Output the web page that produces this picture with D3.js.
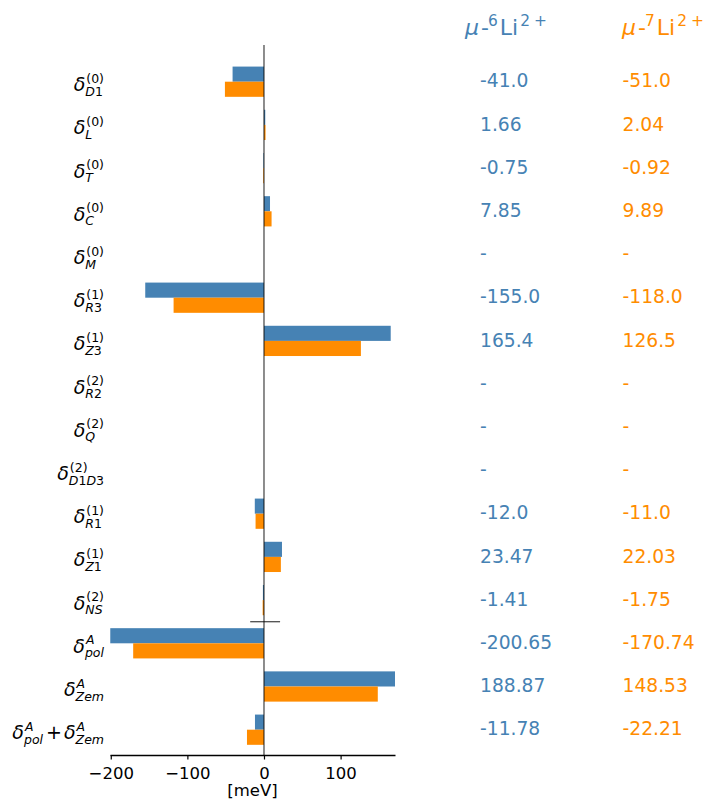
<!DOCTYPE html>
<html>
<head>
<meta charset="utf-8">
<title>shift contributions</title>
<script src="https://cdn.jsdelivr.net/npm/d3@7"></script>
<style>
  body { margin: 0; background: #fff; }
  text { font-family: "DejaVu Sans", sans-serif; }
</style>
</head>
<body>
<svg id="chart" width="704" height="803"></svg>
<script>

// Row labels: [subscript, superscript] per delta term
var rowTerms = [
  [["D1", "(0)"]], [["L", "(0)"]], [["T", "(0)"]], [["C", "(0)"]], [["M", "(0)"]],
  [["R3", "(1)"]], [["Z3", "(1)"]], [["R2", "(2)"]], [["Q", "(2)"]], [["D1D3", "(2)"]],
  [["R1", "(1)"]], [["Z1", "(1)"]], [["NS", "(2)"]], [["pol", "A"]], [["Zem", "A"]],
  [["pol", "A"], ["Zem", "A"]]
];

// Values in meV (null = not available)
var li6 = [-41.0, 1.66, -0.75, 7.85, null, -155.0, 165.4, null, null, null, -12.0, 23.47, -1.41, -200.65, 188.87, -11.78];
var li7 = [-51.0, 2.04, -0.92, 9.89, null, -118.0, 126.5, null, null, null, -11.0, 22.03, -1.75, -170.74, 148.53, -22.21];

// Printed values
var li6Text = ["-41.0", "1.66", "-0.75", "7.85", "-", "-155.0", "165.4", "-", "-", "-", "-12.0", "23.47", "-1.41", "-200.65", "188.87", "-11.78"];
var li7Text = ["-51.0", "2.04", "-0.92", "9.89", "-", "-118.0", "126.5", "-", "-", "-", "-11.0", "22.03", "-1.75", "-170.74", "148.53", "-22.21"];

var xTicks = [-200, -100, 0, 100];
var xLimits = [-201, 171];
var sepSpan = [-18, 21]; // little marker between NS and pol rows

var blue = "#4682b4", orange = "#ff8c00";

var svg = d3.select("#chart");

var x = d3.scaleLinear().domain(xLimits).range([110, 395]);
var y = d3.scaleLinear().domain([0, rowTerms.length - 1]).range([81.7, 729.7]);
var bh = 0.35 * (y(1) - y(0));
var yTop = y(-0.85), yBot = 755;

svg.append("clipPath").attr("id", "plotclip")
  .append("rect").attr("x", x(xLimits[0])).attr("y", yTop)
  .attr("width", x(xLimits[1]) - x(xLimits[0])).attr("height", yBot - yTop);

var plot = svg.append("g").attr("clip-path", "url(#plotclip)");

function bars(vals, color, off) {
  plot.selectAll(null).data(vals).enter().append("rect")
    .attr("x", function(d) { return x(Math.min(0, d || 0)); })
    .attr("y", function(d, i) { return y(i) + off; })
    .attr("width", function(d) { return Math.abs(x(d || 0) - x(0)); })
    .attr("height", bh)
    .attr("fill", color);
}
bars(li6, blue, -bh);
bars(li7, orange, 0);

// zero line
svg.append("line")
  .attr("x1", x(0)).attr("x2", x(0)).attr("y1", yTop).attr("y2", yBot)
  .attr("stroke", "#000").attr("stroke-opacity", 0.6).attr("stroke-width", 1.5);

// separator mark
var ySep = (y(12) + y(13)) / 2;
svg.append("line")
  .attr("x1", x(sepSpan[0])).attr("x2", x(sepSpan[1])).attr("y1", ySep).attr("y2", ySep)
  .attr("stroke", "#000").attr("stroke-opacity", 0.7).attr("stroke-width", 1.3);

// x axis
var ax = svg.append("g").attr("transform", "translate(0," + yBot + ")")
  .call(d3.axisBottom(x).tickValues(xTicks).tickSize(4.5).tickSizeOuter(0).tickPadding(8));
ax.select(".domain").attr("stroke", "#000").attr("stroke-width", 1.3);
ax.selectAll(".tick line").attr("stroke", "#000").attr("stroke-width", 1.2);
ax.selectAll(".tick text").attr("font-size", 16.5).attr("fill", "#000")
  .attr("font-family", "DejaVu Sans");

svg.append("text").attr("x", (x(xLimits[0]) + x(xLimits[1])) / 2).attr("y", 796)
  .attr("text-anchor", "middle").attr("font-size", 16.5).text("[meV]");

// y labels built from pieces, italic letters, upright digits and parens
var fs = 19, sfs = 12.5;
function addScript(g, str, x0, dy) {
  var t = g.append("text").attr("x", x0).attr("y", dy).attr("font-size", sfs);
  str.match(/[A-Za-z]+|[^A-Za-z]+/g).forEach(function(p) {
    t.append("tspan").attr("font-style", /[A-Za-z]/.test(p) ? "italic" : "normal").text(p);
  });
  return t.node().getComputedTextLength();
}

rowTerms.forEach(function(terms, i) {
  var g = svg.append("g");
  var cx = 0;
  terms.forEach(function(tm, k) {
    if (k > 0) {
      cx += 3;
      var plus = g.append("text").attr("x", cx).attr("y", 0).attr("font-size", fs).text("+");
      cx += plus.node().getComputedTextLength() + 2;
    }
    var d = g.append("text").attr("x", cx).attr("y", 0).attr("font-size", fs)
      .attr("font-style", "italic").text("δ");
    cx += d.node().getComputedTextLength();
    var wSup = addScript(g, tm[1], cx + 1, -8.5) + 1;
    var wSub = addScript(g, tm[0], cx, 4.5);
    cx += Math.max(wSup, wSub);
  });
  g.attr("transform", "translate(" + (104 - cx) + "," + (y(i) + 9.5) + ")");
});

// value columns
var vfs = 18.7;
function column(texts, x0, color) {
  svg.selectAll(null).data(texts).enter().append("text")
    .attr("x", x0).attr("y", function(d, i) { return y(i) + 5.7; })
    .attr("font-size", vfs).attr("fill", color).text(function(d) { return d; });
}
column(li6Text, 480, blue);
column(li7Text, 622.5, orange);

// column headers
function header(x0, mass, color) {
  var t = svg.append("text").attr("x", x0).attr("y", 35).attr("font-size", 22).attr("fill", color);
  t.append("tspan").attr("font-style", "italic").text("μ");
  t.append("tspan").attr("dx", 2).text("-");
  t.append("tspan").attr("font-size", 15.4).attr("dy", -9.5).attr("dx", -1).text(mass);
  t.append("tspan").attr("dy", 9.5).attr("dx", 2).text("Li");
  t.append("tspan").attr("font-size", 15.4).attr("dy", -9.5).attr("dx", 2).text("2");
  t.append("tspan").attr("font-size", 15.4).attr("dx", 4).text("+");
}
header(465, "6", blue);
header(622, "7", orange);

</script>
</body>
</html>
